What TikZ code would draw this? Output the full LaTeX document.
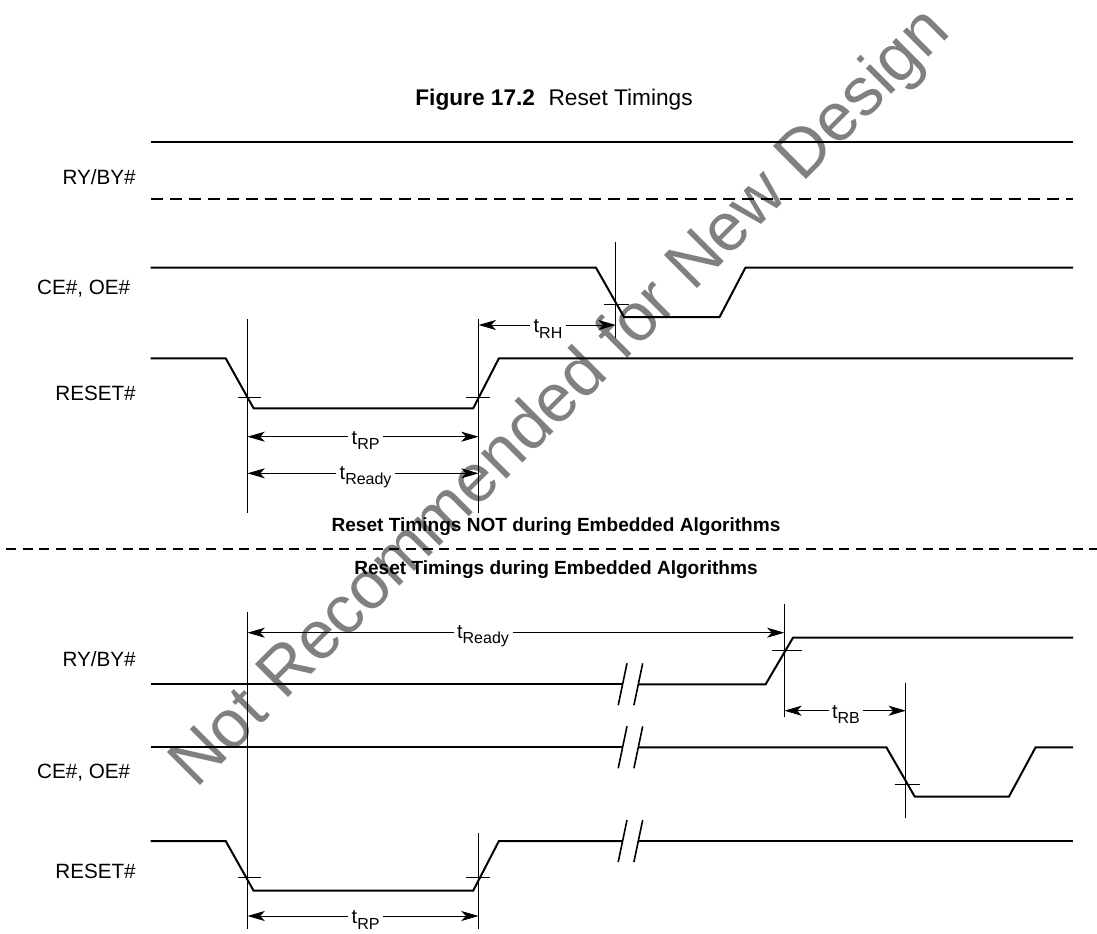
\documentclass[tikz,border=0pt]{standalone}
\usepackage{fontspec}
\setmainfont{Liberation Sans}
\usetikzlibrary{arrows.meta}
\newcommand{\tsig}[1]{t\raisebox{-0.5ex}{\fontsize{12pt}{12pt}\selectfont #1}}
\begin{document}
\begin{tikzpicture}[x=0.75pt,y=-0.75pt,
  sig/.style={line width=1.5pt, line join=miter},
  thinln/.style={line width=0.7pt},
  dimarr/.style={line width=0.7pt, -{Stealth[length=13pt,width=7.5pt,inset=3.5pt]}},
  lbl/.style={font=\fontsize{15.5pt}{18pt}\selectfont, anchor=east, inner sep=0pt},
  tlbl/.style={font=\fontsize{15pt}{18pt}\selectfont, inner sep=2.5pt},
  sect/.style={font=\bfseries\fontsize{14.3pt}{16pt}\selectfont, inner sep=0pt},
  wm/.style={font=\fontsize{51pt}{52pt}\selectfont, text=gray, inner sep=0pt},
  brk/.style={line width=1.2pt}
]
\useasboundingbox (0,0) rectangle (1097,933);

% watermark (behind)
\node[wm, rotate=45, anchor=base west] (wmk) at (196,790) {Not Recommended for New Design};

% title
\node[font=\fontsize{17pt}{19pt}\selectfont, inner sep=0pt] (title) at (554,100) {\textbf{Figure 17.2}\hspace{0.6em}Reset Timings};

% ===== upper section =====
\node[lbl] (ry1) at (136,177.5) {RY/BY\#};
\node[lbl] (ce1) at (130.5,288.5) {CE\#, OE\#};
\node[lbl] (rs1) at (136,393.5) {RESET\#};

\draw[sig] (150.7,141.7) -- (1073,141.7);
\draw[sig, dash pattern=on 9pt off 5.3pt] (150.7,198.5) -- (1073,198.5);
\draw[sig] (150.7,267.7) -- (596,267.7) -- (624,317) -- (719.6,317) -- (745.4,267.7) -- (1073,267.7);
\draw[sig] (150.7,358.3) -- (225.7,358.3) -- (253.6,408.3) -- (473.2,408.3) -- (498.9,358.3) -- (1073,358.3);

\coordinate (a1t) at (247.5,319); \coordinate (a1b) at (247.5,513);
\coordinate (a2t) at (478.6,319); \coordinate (a2b) at (478.6,513);
\coordinate (a3t) at (615.7,241.7); \coordinate (a3b) at (615.7,338.3);
\draw[thinln] (a1t) -- (a1b);
\draw[thinln] (a2t) -- (a2b);
\draw[thinln] (a3t) -- (a3b);
\draw[thinln] (238.2,397.5) -- (261.4,397.5);
\draw[thinln] (466,397.5) -- (490.4,397.5);
\draw[thinln] (604.3,304) -- (629.3,304);

% tRH
\node[tlbl] (trh) at (548,329) {\tsig{RH}};
\coordinate (rh1) at (478.6,325); \coordinate (rh2) at (615.7,325);
\draw[dimarr] (trh.west |- rh1) -- (rh1);
\draw[dimarr] (trh.east |- rh2) -- (rh2);
% tRP upper
\node[tlbl] (trp1) at (365.6,440.5) {\tsig{RP}};
\coordinate (rp1a) at (247.5,436.7); \coordinate (rp1b) at (478.6,436.7);
\draw[dimarr] (trp1.west |- rp1a) -- (rp1a);
\draw[dimarr] (trp1.east |- rp1b) -- (rp1b);
% tReady upper
\node[tlbl] (trd1) at (365.6,477) {\tsig{Ready}};
\coordinate (rd1a) at (247.5,473.3); \coordinate (rd1b) at (478.6,473.3);
\draw[dimarr] (trd1.west |- rd1a) -- (rd1a);
\draw[dimarr] (trd1.east |- rd1b) -- (rd1b);

% ===== section separator =====
\node[sect] (s1) at (556,527) {Reset Timings NOT during Embedded Algorithms};
\draw[line width=1.3pt, dash pattern=on 7.5pt off 5pt] (6,549) -- (1097,549);
\node[sect] (s2) at (556,570) {Reset Timings during Embedded Algorithms};

% ===== lower section =====
\node[lbl] (ry2) at (136,659) {RY/BY\#};
\node[lbl] (ce2) at (130.5,772.3) {CE\#, OE\#};
\node[lbl] (rs2) at (136,871) {RESET\#};

\draw[sig] (150.7,684.3) -- (622.6,684.3);
\draw[sig] (638.3,684.3) -- (765.6,684.3) -- (793,637.7) -- (1073,637.7);
\draw[sig] (150.7,747.3) -- (622.6,747.3);
\draw[sig] (638.3,747.3) -- (886.4,747.3) -- (914.8,796.7) -- (1008.9,796.7) -- (1035.6,747.3) -- (1073,747.3);
\draw[sig] (150.7,841) -- (225.7,841) -- (253.6,890.7) -- (473.2,890.7) -- (498.9,841) -- (622.6,841);
\draw[sig] (638.3,841) -- (1073,841);

% break marks
\foreach \yy in {684.3,747.3,841}{
  \draw[brk] (618.2,\yy+21) -- (627,\yy-21);
  \draw[brk] (633.9,\yy+21) -- (642.7,\yy-21);
}

\coordinate (b1t) at (247.5,611.7); \coordinate (b1b) at (247.5,929);
\coordinate (b2t) at (478.6,832.7); \coordinate (b2b) at (478.6,929);
\coordinate (b3t) at (784.4,604); \coordinate (b3b) at (784.4,717.3);
\coordinate (b4t) at (905.9,682.7); \coordinate (b4b) at (905.9,818.3);
\draw[thinln] (b1t) -- (b1b);
\draw[thinln] (b2t) -- (b2b);
\draw[thinln] (b3t) -- (b3b);
\draw[thinln] (b4t) -- (b4b);
\draw[thinln] (771.6,650) -- (802.2,650);
\draw[thinln] (894.5,784) -- (920.1,784);
\draw[thinln] (238.2,877.3) -- (261.4,877.3);
\draw[thinln] (466,877.3) -- (490.4,877.3);

% tReady lower
\node[tlbl] (trd2) at (483,636.5) {\tsig{Ready}};
\coordinate (rd2a) at (247.5,632.7); \coordinate (rd2b) at (784.4,632.7);
\draw[dimarr] (trd2.west |- rd2a) -- (rd2a);
\draw[dimarr] (trd2.east |- rd2b) -- (rd2b);
% tRB
\node[tlbl] (trb) at (846,714.5) {\tsig{RB}};
\coordinate (rb1) at (784.4,710.7); \coordinate (rb2) at (905.9,710.7);
\draw[dimarr] (trb.west |- rb1) -- (rb1);
\draw[dimarr] (trb.east |- rb2) -- (rb2);
% tRP lower
\node[tlbl] (trp2) at (365.6,920) {\tsig{RP}};
\coordinate (rp2a) at (247.5,916); \coordinate (rp2b) at (478.6,916);
\draw[dimarr] (trp2.west |- rp2a) -- (rp2a);
\draw[dimarr] (trp2.east |- rp2b) -- (rp2b);
\end{tikzpicture}
\end{document}
